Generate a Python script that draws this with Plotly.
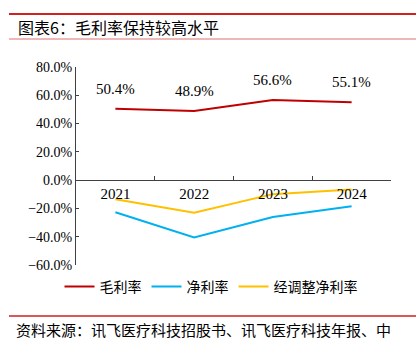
import plotly.graph_objects as go

years = ["2021", "2022", "2023", "2024"]
gross = [50.4, 48.9, 56.6, 55.1]
net = [-22.7, -40.6, -26.0, -18.4]
adj_net = [-13.5, -23.1, -9.9, -6.6]
gross_labels = ["50.4%", "48.9%", "56.6%", "55.1%"]

W, H = 416, 340
L, R, T, B = 76, 25, 67, 75
pw, ph = W - L - R, H - T - B

def px(x):
    return (x - L) / pw

def py(y):
    return (H - B - y) / ph

serif = "Liberation Serif, Times New Roman, serif"
cjk = "Noto Sans CJK SC"

fig = go.Figure()
fig.add_trace(go.Scatter(x=years, y=gross, mode="lines", name="毛利率",
                         line=dict(color="#C00000", width=2)))
fig.add_trace(go.Scatter(x=years, y=net, mode="lines", name="净利率",
                         line=dict(color="#00B0F0", width=2)))
fig.add_trace(go.Scatter(x=years, y=adj_net, mode="lines", name="经调整净利率",
                         line=dict(color="#FFC000", width=2)))

for i, (v, t) in enumerate(zip(gross, gross_labels)):
    fig.add_annotation(xref="x", yref="y", x=i, y=v, text=t, showarrow=False, yshift=20,
                       font=dict(family=serif, size=15, color="#000"))

fig.update_layout(
    width=W, height=H,
    margin=dict(l=L, r=R, t=T, b=B),
    paper_bgcolor="white", plot_bgcolor="white",
    showlegend=True,
    legend=dict(orientation="h", x=px(211), xanchor="center", y=py(287), yanchor="middle",
                font=dict(family=cjk, size=14, color="#000"), itemwidth=30,
                tracegroupgap=0, bgcolor="rgba(0,0,0,0)"),
    xaxis=dict(type="category", range=[-0.5, 3.5], anchor="free", position=60 / 140,
               showline=True, linecolor="#404040", linewidth=1,
               ticks="inside", tickson="boundaries", ticklen=4, tickcolor="#404040",
               showgrid=False, zeroline=False,
               tickfont=dict(family=serif, size=15, color="#000")),
    yaxis=dict(range=[-60, 80], dtick=20, tick0=0, ticksuffix="%", tickformat=".1f",
               showline=True, linecolor="#404040", linewidth=1,
               ticks="inside", ticklen=3, tickcolor="#404040",
               showgrid=False, zeroline=False,
               tickfont=dict(family=serif, size=14, color="#000")),
)

# header / footer decorations
fig.add_shape(type="line", xref="paper", yref="paper", x0=px(9), x1=px(416), y0=py(14), y1=py(14),
              line=dict(color="#D02020", width=2))
fig.add_shape(type="line", xref="paper", yref="paper", x0=px(9), x1=px(416), y0=py(39), y1=py(39),
              line=dict(color="#E8A0A0", width=1.5))
fig.add_shape(type="line", xref="paper", yref="paper", x0=px(9), x1=px(416), y0=py(316), y1=py(316),
              line=dict(color="#D02020", width=1.5))

fig.add_annotation(xref="paper", yref="paper", x=px(16), y=py(27), xanchor="left", yanchor="middle",
                   text="图表6：毛利率保持较高水平", showarrow=False,
                   font=dict(family=cjk, size=16, color="#000"))
fig.add_annotation(xref="paper", yref="paper", x=px(14), y=py(329), xanchor="left", yanchor="middle",
                   text="资料来源：讯飞医疗科技招股书、讯飞医疗科技年报、中", showarrow=False,
                   font=dict(family=cjk, size=15, color="#000"))

fig.write_html("out.html")
